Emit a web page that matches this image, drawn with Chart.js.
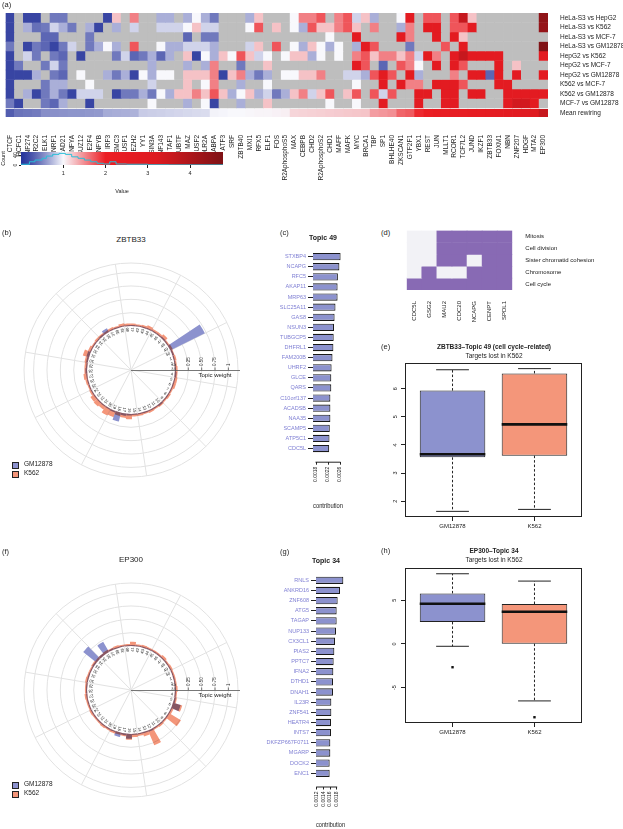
<!DOCTYPE html>
<html>
<head>
<meta charset="utf-8">
<title>Rewiring figure</title>
<script src="https://cdn.jsdelivr.net/npm/chart.js@4.4.1/dist/chart.umd.min.js"></script>
<style>
  body { margin: 0; background: #fff; }
  #page { position: relative; width: 623px; height: 829px; overflow: hidden; font-family: "Liberation Sans", Arial, sans-serif; color: #222; }
  #page canvas { position: absolute; }
  .t { position: absolute; white-space: nowrap; line-height: 1; }
  .c { transform: translateX(-50%); }
  .b { font-weight: bold; }
  .sw { position: absolute; width: 5px; height: 5px; border: 1px solid #222; }
</style>
</head>
<body>
<div id="page">
  <canvas id="heat" width="623" height="180" style="left:0;top:0"></canvas>
  <canvas id="key" width="235" height="55" style="left:0;top:140px"></canvas>
  <canvas id="polarB" width="290" height="240" style="left:0;top:250px"></canvas>
  <canvas id="barC" width="114" height="265" style="left:236px;top:245px"></canvas>
  <canvas id="goD" width="223" height="100" style="left:400px;top:222px"></canvas>
  <canvas id="boxE" width="253" height="200" style="left:370px;top:338px"></canvas>
  <canvas id="polarF" width="290" height="240" style="left:0;top:570px"></canvas>
  <canvas id="barG" width="114" height="261" style="left:236px;top:568px"></canvas>
  <canvas id="boxH" width="253" height="200" style="left:370px;top:543px"></canvas>

  <div class="t" style="left:2px;top:1px;font-size:7.5px">(a)</div>
  <div class="t" style="left:2px;top:229px;font-size:7.5px">(b)</div>
  <div class="t c" style="left:131px;top:236px;font-size:8px">ZBTB33</div>
  <div class="t" style="left:280px;top:229px;font-size:7.5px">(c)</div>
  <div class="t c b" style="left:323px;top:234px;font-size:7px">Topic 49</div>
  <div class="t" style="left:381px;top:229px;font-size:7.5px">(d)</div>
  <div class="t" style="left:381px;top:343px;font-size:7.5px">(e)</div>
  <div class="t c b" style="left:494px;top:344px;font-size:6.5px">ZBTB33–Topic 49 (cell cycle–related)</div>
  <div class="t c" style="left:494px;top:352.5px;font-size:6.5px">Targets lost in K562</div>
  <div class="sw" style="left:12px;top:462px;background:rgb(140,146,206)"></div>
  <div class="t" style="left:24px;top:461px;font-size:6.5px">GM12878</div>
  <div class="sw" style="left:12px;top:471px;background:rgb(244,150,122)"></div>
  <div class="t" style="left:24px;top:470px;font-size:6.5px">K562</div>

  <div class="t" style="left:2px;top:548px;font-size:7.5px">(f)</div>
  <div class="t c" style="left:131px;top:556px;font-size:8px">EP300</div>
  <div class="t" style="left:280px;top:548px;font-size:7.5px">(g)</div>
  <div class="t c b" style="left:326px;top:557px;font-size:7px">Topic 34</div>
  <div class="t" style="left:381px;top:547px;font-size:7.5px">(h)</div>
  <div class="t c b" style="left:494px;top:548px;font-size:6.5px">EP300–Topic 34</div>
  <div class="t c" style="left:494px;top:557px;font-size:6.5px">Targets lost in K562</div>
  <div class="sw" style="left:12px;top:782px;background:rgb(140,146,206)"></div>
  <div class="t" style="left:24px;top:781px;font-size:6.5px">GM12878</div>
  <div class="sw" style="left:12px;top:791px;background:rgb(244,150,122)"></div>
  <div class="t" style="left:24px;top:790px;font-size:6.5px">K562</div>
</div>
<script>
const _ = null;

// (a) rewiring heatmap
const tfNames = ['CTCF','HCFC1','ZNF274','NR2C2','ELK1','NRF1','RAD21','NFYA','SUZ12','E2F4','NFYB','IRF3','SMC3','USF1','EZH2','YY1','SIN3A','ZNF143','TAF1','UBTF','MAZ','USF2','POLR2A','GABPA','ATF3','SRF','ZBTB40','MXI1','RFX5','ELF1','FOS','POLR2AphosphoS5','MAX','CEBPB','CHD2','POLR2AphosphoS2','CHD1','MAFF','MAFK','MYC','BRCA1','TBP','SP1','BHLHE40','ZKSCAN1','GTF2F1','YBX1','REST','JUN','MLLT1','RCOR1','TCF7L2','JUND','IKZF1','ZBTB33','FOXM1','NBN','ZNF207','HDGF','MTA2','EP300'];
const pairNames = ['HeLa-S3 vs HepG2','HeLa-S3 vs K562','HeLa-S3 vs MCF-7','HeLa-S3 vs GM12878','HepG2 vs K562','HepG2 vs MCF-7','HepG2 vs GM12878','K562 vs MCF-7','K562 vs GM12878','MCF-7 vs GM12878'];

const helaHepg2 = [.15,_,.15,.15,_,.45,.45,_,_,_,_,.15,1.25,_,1.55,_,_,.7,.7,_,.7, 1,.7,.45,_,_,_,.7,1.25,_,_,_,1,1.55,1.55,1.75,_,1.55,1.75,.85,1.25, .7,_,_,1,2.8,_,1.75,1.75,_,1.75,3.6,1.25,_,_,_,_,_,_,_,4.5];
const helaK562 = [.15,_,.7,.4,.45,.85,.7,.45,_,.7,.15,_,.7,_,.85,_,_,.85,.85,.85,1, 1.25,.85,.85,_,_,_,1,1.75,_,1.25,_,1,.7,1.75,1.25,1.25,1.55,1.75,1.25,_, 1.55,_,_,.7,1.55,_,2.8,2.8,_,1.75,1.75,2.8,_,_,_,_,_,_,_,4.4];
const helaMcf7 = [.15,_,_,_,.35,.35,_,_,_,.45,_,_,_,_,_,_,_,_,_,_,.35, _,.45,.45,_,_,_,_,_,_,_,_,_,_,_,_,1,_,_,2.8,_, _,_,_,2.8,1.55,_,_,2.8,_,2.8,1.25,_,_,_,_,_,_,_,_,_];
const helaGm = [.45,_,.15,.45,.35,.15,.45,.85,_,.45,.7,1,.7,_,1.75,_,_,1,.7,.7,.85, .85,.85,.7,_,_,_,.85,1.25,_,1.75,_,1,.7,1.25,1,.7,1,_,.7,2.8, 1.75,_,_,_,.45,_,_,_,1.75,_,2.8,_,_,_,_,_,_,_,_,4.75];
const hepg2K562 = [.15,_,.85,.45,_,.45,.35,_,.15,_,_,_,.45,.85,.35,.45,.7,.35,.7,_,1.25, .15,1,.7,1.25,1,1.75,1.25,.85,1,_,1,1.25,1.25,.7,1,_,1,_,1.55,1.75, 1.25,1.55,1.55,1.25,1.55,.85,2.8,1.55,_,2.8,3.6,2.8,2.8,2.8,2.8,_,_,_,_,2.8];
const hepg2Mcf7 = [.15,.45,_,_,.45,.85,.45,_,_,_,_,_,_,_,_,_,.7,_,_,_,.7, _,.7,1.55,_,_,.45,_,_,1.25,_,_,_,_,_,_,_,_,_,2.8,1.75, _,.35,_,1.75,1.55,1,_,2.8,_,2.8,1.75,_,_,_,2.8,_,1.25,_,_,_];
const hepg2Gm = [.15,.15,.15,.7,_,.45,.35,_,1,_,_,.7,.45,.7,.15,1,.7,1,1,_,1.25, 1.25,1.25,1.55,.15,1.25,1.55,.7,.45,.7,_,1,1,1.25,1.25,1.55,_,_,.85,.85,.7, 1.75,2.8,1.75,_,2.8,.7,_,_,_,1.55,_,2.8,2.8,.35,2.8,_,2.8,_,_,2.8];
const k562Mcf7 = [.15,_,_,_,.45,.7,.7,_,_,1,_,_,_,_,_,_,.85,_,_,_,1.25, _,1,1.55,_,_,.7,_,_,1,_,_,_,_,_,_,_,_,_,1,_, _,2.8,_,2.8,1.55,1.55,_,2.8,2.8,2.8,1.75,_,_,_,2.8,2.8,_,_,_,_];
const k562Gm = [.15,_,.7,.15,.45,.7,.45,.15,.85,.85,.85,_,.15,.45,.45,.7,.45,1,.7,1.25,1.25, 1.55,1.25,1.75,1.25,.7,1,1.25,.7,.85,.45,.7,1.25,1.55,.85,1.25,1.75,_,1.25,1.75,_, 1.75,.85,1.75,_,_,2.8,2.8,_,2.8,2.8,_,2.8,2.8,_,_,2.8,2.8,2.8,2.8,2.8];
const mcf7Gm = [.45,.15,_,_,.45,.35,.7,_,_,.15,_,_,_,_,_,_,1,_,_,_,.7, _,1,.15,_,_,.7,_,_,1.25,_,_,_,_,_,_,1,_,_,1,_, _,2.8,_,_,_,2.8,_,_,2.8,2.8,_,_,_,_,_,2.8,3.4,3.4,2.8,_];
const meanRewiring = [0.30,0.42,0.44,0.46,0.55,0.56,0.57,0.58,0.58,0.59,0.60,0.68,0.69,0.70,0.71,0.82,0.83,0.84,0.85,0.86,0.87,0.88,0.89,0.98,0.99,1.0,1.0,1.01,1.02,1.02,1.03,1.04,1.16,1.17,1.18,1.19,1.2,1.21,1.22,1.23,1.24,1.42,1.45,1.48,1.68,1.72,1.95,2.05,2.3,2.35,2.4,2.45,2.5,2.55,2.6,2.7,2.8,2.9,3.0,3.1,3.6];

// colour key histogram (bin starts and counts)
const histStart = [0,0.2,0.33,0.5,0.6,0.75,0.9,1.05,1.2,1.35,1.5,1.65,1.8,1.95,2.1,2.25,2.5,3.0,3.5,4.78];
const histCount = [3,13,20,27,36,43,47,43,33,27,20,13,7,4,13,4,3,1,0.5,0];
const keyTicks = [1,2,3,4];

// (b), (f) topic weights
const topics = [1,2,3,4,5,6,7,8,9,10,11,12,13,14,15,16,17,18,19,20,21,22,23,24,25,26,27,28,29,30,31,32,33,34,35,36,37,38,39,40,41,42,43,44,45,46,47,48,49,50];
const zbtbGM = [0.02,0.02,0.02,0.03,0.02,0.02,0.02,0.02,0.02,0.03, 0.02,0.02,0.02,0.02,0.02,0.03,0.04,0.17,0.03,0.02, 0.02,0.02,0.02,0.02,0.02,0.02,0.02,0.03,0.02,0.03, 0.05,0.02,0.02,0.02,0.03,0.08,0.02,0.02,0.02,0.02, 0.02,0.02,0.02,0.02,0.02,0.02,0.03,0.02,0.72,0.03];
const zbtbK562 = [0.05,0.04,0.05,0.05,0.06,0.06,0.04,0.05,0.04,0.05, 0.04,0.05,0.04,0.05,0.05,0.10,0.08,0.06,0.12,0.14, 0.08,0.10,0.09,0.05,0.04,0.05,0.07,0.05,0.05,0.06, 0.12,0.06,0.04,0.05,0.05,0.04,0.05,0.04,0.06,0.05, 0.05,0.04,0.05,0.07,0.05,0.05,0.08,0.04,0.05,0.04];
const ep300GM = [0.02,0.02,0.02,0.02,0.03,0.15,0.02,0.02,0.02,0.02, 0.02,0.03,0.02,0.02,0.02,0.09,0.03,0.08,0.02,0.02, 0.02,0.02,0.02,0.02,0.02,0.02,0.02,0.02,0.02,0.02, 0.02,0.02,0.03,0.32,0.04,0.22,0.03,0.02,0.02,0.02, 0.02,0.02,0.02,0.02,0.02,0.02,0.02,0.02,0.02,0.02];
const ep300K562 = [0.04,0.04,0.05,0.04,0.05,0.18,0.05,0.27,0.04,0.05, 0.04,0.30,0.08,0.05,0.06,0.11,0.05,0.04,0.05,0.04, 0.05,0.04,0.04,0.05,0.04,0.04,0.05,0.04,0.04,0.05, 0.04,0.04,0.05,0.04,0.04,0.05,0.04,0.05,0.04,0.04, 0.08,0.04,0.05,0.04,0.04,0.04,0.06,0.04,0.05,0.04];
const ringBreaks = [0, 0.25, 0.5, 0.75, 1, 1.18];
const weightTicks = [0, 0.25, 0.5, 0.75, 1];
const weightLabels = ['0', '0.25', '0.50', '0.75', '1'];

// (c), (g) top genes per topic
const topic49Genes = ['STXBP4','NCAPG','RFC5','AKAP11','MRP63','SLC25A11','GAS8','NSUN3','TUBGCP5','DHFRL1','FAM200B','UHRF2','GLCE','QARS','C10orf137','ACADSB','NAA35','SCAMP5','ATP5C1','CDC5L'];
const topic49Contrib = [0.00262,0.00258,0.00253,0.00252,0.00252,0.00245,0.00242,0.0024,0.00239,0.00238,0.00235,0.00232,0.00231,0.00231,0.00228,0.00228,0.00228,0.00226,0.00225,0.00224];
const topic49Ticks = [0.0018, 0.0022, 0.0026];
const topic34Genes = ['RNLS','ANKRD16','ZNF608','ATG5','TAGAP','NUP133','CX3CL1','PIAS2','PPTC7','IFNA2','DTHD1','DNAH1','IL23R','ZNF541','HEATR4','INTS7','DKFZP667F0711','MGARP','DOCK2','ENC1'];
const topic34Contrib = [0.0020,0.0019,0.00183,0.0018,0.0018,0.00178,0.00175,0.00173,0.00171,0.0017,0.00169,0.00169,0.00164,0.00164,0.00163,0.00163,0.00161,0.00161,0.00159,0.00159];
const topic34Ticks = [0.0012, 0.0014, 0.0016, 0.0018];

// (d) GO term membership
const goGenes = ['CDC5L','GSG2','MAU2','CDC20','NCAPG','CENPT','SPDL1'];
const goTerms = ['Mitosis','Cell division','Sister chromatid cohesion','Chromosome','Cell cycle'];
const goMitosis = [0,0,1,1,1,1,1];
const goCellDivision = [0,0,1,1,1,1,1];
const goCohesion = [0,0,1,1,0,1,1];
const goChromosome = [0,1,0,0,1,1,1];
const goCellCycle = [1,1,1,1,1,1,1];

// (e), (h) box plot summaries
const boxLabels = ['GM12878', 'K562'];
const eLow = [1.64, 1.71], eQ1 = [3.56, 3.62], eMed = [3.67, 4.73], eQ3 = [5.93, 6.54], eHigh = [6.67, 6.71], eOut = [_, _];
const hLow = [-0.27, -6.53], hQ1 = [2.52, 0.03], hMed = [4.6, 3.69], hQ3 = [5.79, 4.57], hHigh = [8.04, 7.2], hOut = [-2.67, -8.4];

const GM_COL = 'rgb(140,146,206)';
const K_COL = 'rgb(244,150,122)';
const NA_COL = 'rgb(190,190,190)';
const GO_ON = 'rgb(136,106,180)';
const GO_OFF = 'rgb(242,242,246)';

Chart.defaults.font.family = '"Liberation Sans", Arial, sans-serif';
Chart.defaults.color = '#222';
Chart.defaults.animation = false;
Chart.defaults.responsive = false;
Chart.defaults.plugins.legend.display = false;
Chart.defaults.plugins.tooltip.enabled = false;

function mix(a, b, t) { return a.map((c, i) => Math.round(c + (b[i] - c) * t)); }
function heatColor(v) {
  if (v === null) return NA_COL;
  let c;
  if (v <= 1) c = mix([38, 52, 155], [248, 248, 252], Math.pow(Math.max(v, 0), 1.3));
  else if (v <= 2) c = mix([248, 248, 252], [236, 30, 36], v - 1);
  else if (v <= 3.2) c = mix([236, 30, 36], [222, 26, 32], (v - 2) / 1.2);
  else c = mix([222, 26, 32], [125, 18, 22], Math.min((v - 3.2) / 1.6, 1));
  return 'rgb(' + c + ')';
}

// ---------- (a) heatmap ----------
const heatRows = [helaHepg2, helaK562, helaMcf7, helaGm, hepg2K562, hepg2Mcf7, hepg2Gm, k562Mcf7, k562Gm, mcf7Gm];
const heatSets = heatRows.map((vals, r) => ({
  data: vals.map(() => [r, r + 1]),
  backgroundColor: vals.map(heatColor),
  grouped: false, barPercentage: 1, categoryPercentage: 1, borderWidth: 0
}));
heatSets.push({
  data: meanRewiring.map(() => [10.15, 10.95]),
  backgroundColor: meanRewiring.map(heatColor),
  grouped: false, barPercentage: 1, categoryPercentage: 1, borderWidth: 0
});
const rowLabels = pairNames.concat(['Mean rewiring']);
const rowCentres = pairNames.map((n, r) => r + 0.5).concat([10.55]);

new Chart(document.getElementById('heat'), {
  type: 'bar',
  data: { labels: tfNames, datasets: heatSets },
  options: {
    layout: { padding: { top: 13, left: 2, right: 0, bottom: 0 } },
    scales: {
      x: {
        grid: { display: false }, border: { display: false },
        ticks: { autoSkip: false, minRotation: 90, maxRotation: 90, padding: 10, font: { size: 6.5 } },
        afterFit: s => { s.height = 63; }
      },
      y: {
        type: 'linear', position: 'right', reverse: true, min: 0, max: 10.95,
        grid: { display: false }, border: { display: false },
        afterBuildTicks: s => { s.ticks = rowCentres.map(v => ({ value: v })); },
        ticks: { autoSkip: false, padding: 4, font: { size: 6.5 }, callback: (v, i) => rowLabels[i] },
        afterFit: s => { s.width = 75; }
      }
    }
  }
});

// ---------- colour key ----------
const keyGradient = {
  id: 'keyGradient',
  beforeDatasetsDraw(chart) {
    const { ctx, chartArea: a, scales: { x } } = chart;
    const g = ctx.createLinearGradient(x.getPixelForValue(0), 0, x.getPixelForValue(x.max), 0);
    for (let v = 0; v <= x.max + 1e-9; v += 0.05) g.addColorStop(Math.min(v / x.max, 1), heatColor(v));
    ctx.save();
    ctx.fillStyle = g;
    ctx.fillRect(a.left, a.top, a.width, a.height);
    ctx.restore();
  }
};
new Chart(document.getElementById('key'), {
  type: 'line',
  data: { datasets: [{
    data: histStart.map((b, i) => ({ x: b, y: histCount[i] })),
    stepped: 'before', borderColor: 'rgb(40,190,215)', borderWidth: 1, pointRadius: 0
  }] },
  options: {
    layout: { padding: { top: 12, right: 12, left: 0, bottom: 0 } },
    scales: {
      x: {
        type: 'linear', min: 0, max: 4.78,
        afterBuildTicks: s => { s.ticks = keyTicks.map(v => ({ value: v })); },
        grid: { drawOnChartArea: false, tickLength: 3, color: '#222' },
        border: { display: false },
        ticks: { font: { size: 5.5 }, padding: 2 },
        title: { display: true, text: 'Value', font: { size: 5.5 }, padding: { top: 1, bottom: 0 } },
        afterFit: s => { s.height = 30; }
      },
      y: {
        min: 0, max: 52.5,
        afterBuildTicks: s => { s.ticks = [0, 40].map(v => ({ value: v })); },
        grid: { drawOnChartArea: false, tickLength: 2, color: '#222' },
        border: { display: false },
        ticks: { font: { size: 5 }, padding: 1, minRotation: 90, maxRotation: 90, crossAlign: 'center' },
        title: { display: true, text: 'Count', font: { size: 5.5 }, padding: 0 },
        afterFit: s => { s.width = 21; }
      }
    }
  },
  plugins: [keyGradient]
});

// ---------- (b), (f) circular topic-weight plots ----------
const polarDecor = {
  id: 'polarDecor',
  beforeDatasetDraw(chart, args) {
    if (args.index === 1) { chart.ctx.save(); chart.ctx.globalCompositeOperation = 'multiply'; }
  },
  afterDatasetDraw(chart, args) {
    if (args.index === 1) chart.ctx.restore();
  },
  afterDatasetsDraw(chart) {
    const s = chart.scales.r, ctx = chart.ctx;
    const xc = s.xCenter, yc = s.yCenter;
    const r0 = s.getDistanceFromCenterForValue(0);
    ctx.save();
    ctx.fillStyle = '#fff';
    ctx.beginPath(); ctx.arc(xc, yc, r0, 0, 2 * Math.PI); ctx.fill();
    ctx.strokeStyle = '#e2e2e2'; ctx.lineWidth = 1;
    topics.forEach((t, i) => {
      if (i % 5 !== 4) return;
      const p = s.getPointPosition(i, r0);
      ctx.beginPath(); ctx.moveTo(xc, yc); ctx.lineTo(p.x, p.y); ctx.stroke();
    });
    ctx.fillStyle = '#222';
    ctx.font = '4px "Liberation Sans", Arial, sans-serif';
    ctx.textAlign = 'right'; ctx.textBaseline = 'middle';
    topics.forEach((t, i) => {
      const a = s.getIndexAngle(i) + Math.PI / topics.length - Math.PI / 2;
      ctx.save(); ctx.translate(xc, yc); ctx.rotate(a);
      ctx.fillText(String(t), r0 - 1.5, 0);
      ctx.restore();
    });
    // topic weight axis
    ctx.strokeStyle = '#555'; ctx.lineWidth = 0.8;
    ctx.beginPath(); ctx.moveTo(xc, yc + 0.5); ctx.lineTo(xc + s.drawingArea + 2, yc + 0.5); ctx.stroke();
    ctx.font = '4.5px "Liberation Sans", Arial, sans-serif';
    ctx.textAlign = 'left'; ctx.textBaseline = 'middle'; ctx.fillStyle = '#333';
    weightTicks.forEach((v, i) => {
      const x = xc + s.getDistanceFromCenterForValue(v);
      ctx.beginPath(); ctx.moveTo(x, yc); ctx.lineTo(x, yc - 2.5); ctx.stroke();
      ctx.save(); ctx.translate(x, yc - 4); ctx.rotate(-Math.PI / 2);
      ctx.fillText(weightLabels[i], 0, 0);
      ctx.restore();
    });
    ctx.font = '6px "Liberation Sans", Arial, sans-serif';
    ctx.textAlign = 'center'; ctx.textBaseline = 'top'; ctx.fillStyle = '#222';
    ctx.fillText('Topic weight', xc + s.getDistanceFromCenterForValue(0.75), yc + 2.5);
    ctx.restore();
  }
};

function polarChart(id, gm, k562) {
  return new Chart(document.getElementById(id), {
    type: 'polarArea',
    data: { labels: topics, datasets: [
      { label: 'GM12878', data: gm, backgroundColor: GM_COL, borderWidth: 0, order: 1 },
      { label: 'K562', data: k562, backgroundColor: K_COL, borderWidth: 0, order: 0 }
    ] },
    options: {
      layout: { padding: { left: 24, right: 52, top: 13, bottom: 13 } },
      scales: {
        r: {
          min: -0.822, max: 1.18, startAngle: 70.8, beginAtZero: false,
          ticks: { display: false },
          afterBuildTicks: s => { s.ticks = ringBreaks.map(v => ({ value: v })); },
          grid: { color: '#e2e2e2', lineWidth: 1, circular: true },
          angleLines: { display: true, color: '#e2e2e2', lineWidth: c => (c.index % 5 === 4 ? 1 : 0) },
          pointLabels: { display: false }
        }
      }
    },
    plugins: [polarDecor]
  });
}
polarChart('polarB', zbtbGM, zbtbK562);
polarChart('polarF', ep300GM, ep300K562);

// ---------- (c), (g) gene contribution bars ----------
const tickSpan = {
  id: 'tickSpan',
  afterDraw(chart) {
    const x = chart.scales.x, ctx = chart.ctx, t = x.ticks;
    ctx.save();
    ctx.strokeStyle = '#222'; ctx.lineWidth = 1;
    ctx.beginPath();
    ctx.moveTo(x.getPixelForValue(t[0].value) - 0.5, x.top + 0.5);
    ctx.lineTo(x.getPixelForValue(t[t.length - 1].value) + 0.5, x.top + 0.5);
    ctx.stroke();
    ctx.restore();
  }
};
function geneBars(id, genes, vals, xmin, xmax, ticks, leftW, bottomH, padTop, padRight) {
  return new Chart(document.getElementById(id), {
    type: 'bar',
    data: { datasets: [{
      data: vals.map((v, i) => ({ x: v, y: i })),
      backgroundColor: GM_COL, borderColor: '#1a1a1a', borderWidth: 1.1, borderSkipped: false,
      barPercentage: 0.72, categoryPercentage: 1, clip: 0
    }] },
    options: {
      indexAxis: 'y',
      layout: { padding: { top: padTop, right: padRight, left: 0, bottom: 0 } },
      scales: {
        x: {
          type: 'linear', min: xmin, max: xmax, offset: false,
          afterBuildTicks: s => { s.ticks = ticks.map(v => ({ value: v })); },
          grid: { drawOnChartArea: false, tickLength: 3, color: '#222', offset: false },
          border: { display: false },
          ticks: { minRotation: 90, maxRotation: 90, font: { size: 5 }, padding: 2, callback: (v, i) => String(ticks[i]) },
          title: { display: true, text: 'contribution', font: { size: 7 }, padding: { top: 2, bottom: 0 } },
          afterFit: s => { s.height = bottomH; }
        },
        y: {
          type: 'linear', reverse: true, min: -0.6, max: 20.3, offset: false,
          afterBuildTicks: s => { s.ticks = genes.map((g, i) => ({ value: i })); },
          grid: { drawOnChartArea: false, tickLength: 5, color: '#222', offset: false },
          border: { display: false },
          ticks: { autoSkip: false, color: 'rgb(128,128,212)', font: { size: 5.5 }, padding: 2, callback: (v, i) => genes[i] },
          afterFit: s => { s.width = leftW; }
        }
      }
    },
    plugins: [tickSpan]
  });
}
geneBars('barC', topic49Genes, topic49Contrib, 0.0017, 0.0027, topic49Ticks, 77, 48.3, 5.6, 7);
geneBars('barG', topic34Genes, topic34Contrib, 0.00118, 0.00205, topic34Ticks, 80, 42.5, 6.2, 5);

// ---------- (d) GO membership grid ----------
const goRows = [goMitosis, goCellDivision, goCohesion, goChromosome, goCellCycle];
new Chart(document.getElementById('goD'), {
  type: 'bar',
  data: { labels: goGenes, datasets: goRows.map((vals, r) => ({
    data: vals.map(() => [r, r + 1]),
    backgroundColor: vals.map(v => (v ? GO_ON : GO_OFF)),
    grouped: false, barPercentage: 1, categoryPercentage: 1, borderWidth: 0
  })) },
  options: {
    layout: { padding: { top: 6.3, left: 6.7, right: 0, bottom: 0 } },
    scales: {
      x: {
        grid: { display: false }, border: { display: false },
        ticks: { autoSkip: false, minRotation: 90, maxRotation: 90, padding: 3, font: { size: 6 } },
        afterFit: s => { s.height = 32; }
      },
      y: {
        type: 'linear', position: 'right', reverse: true, min: 0, max: 5,
        grid: { display: false }, border: { display: false },
        afterBuildTicks: s => { s.ticks = goTerms.map((t, r) => ({ value: r + 0.5 })); },
        ticks: { autoSkip: false, padding: 5, font: { size: 6 }, callback: (v, i) => goTerms[i] },
        afterFit: s => { s.width = 110.7; }
      }
    }
  }
});

// ---------- (e), (h) box plots ----------
const frame = {
  id: 'frame',
  afterDraw(chart) {
    const a = chart.chartArea, ctx = chart.ctx;
    ctx.save(); ctx.strokeStyle = '#222'; ctx.lineWidth = 1;
    ctx.strokeRect(a.left + 0.5, a.top + 0.5, a.width - 1, a.height - 1);
    ctx.restore();
  }
};
function boxChart(id, lo, q1, med, q3, hi, outs, yMin, yMax, yTicks, padTop, bottomH) {
  const whisk = [], caps = [], meds = [], pts = [];
  boxLabels.forEach((name, i) => {
    const x = i + 1;
    whisk.push({ x, y: q3[i] }, { x, y: hi[i] }, { x, y: null }, { x, y: q1[i] }, { x, y: lo[i] }, { x, y: null });
    caps.push({ x: x - 0.2, y: hi[i] }, { x: x + 0.2, y: hi[i] }, { x, y: null }, { x: x - 0.2, y: lo[i] }, { x: x + 0.2, y: lo[i] }, { x, y: null });
    meds.push({ x: x - 0.4, y: med[i] }, { x: x + 0.4, y: med[i] }, { x, y: null });
    if (outs[i] !== null) pts.push({ x, y: outs[i] });
  });
  return new Chart(document.getElementById(id), {
    type: 'bar',
    data: { datasets: [
      { type: 'bar', data: boxLabels.map((n, i) => ({ x: i + 1, y: [q1[i], q3[i]] })), backgroundColor: [GM_COL, K_COL],
        borderColor: '#222', borderWidth: 1, borderSkipped: false, barPercentage: 0.8, categoryPercentage: 1, order: 4 },
      { type: 'line', data: whisk, borderColor: '#222', borderWidth: 1, borderDash: [2.5, 2], pointRadius: 0, order: 3 },
      { type: 'line', data: caps, borderColor: '#222', borderWidth: 1, pointRadius: 0, order: 2 },
      { type: 'line', data: meds, borderColor: '#111', borderWidth: 2.6, pointRadius: 0, order: 1 },
      { type: 'line', data: pts, showLine: false, pointStyle: 'rect', pointRadius: 1.7, pointBackgroundColor: '#111', pointBorderWidth: 0, order: 0 }
    ] },
    options: {
      layout: { padding: { top: padTop, right: 41, left: 0, bottom: 0 } },
      scales: {
        x: {
          type: 'linear', min: 0.42, max: 2.58, offset: false,
          afterBuildTicks: s => { s.ticks = boxLabels.map((n, i) => ({ value: i + 1 })); },
          grid: { drawOnChartArea: false, tickLength: 4, color: '#222', offset: false },
          border: { display: false },
          ticks: { font: { size: 6 }, padding: 2, callback: (v, i) => boxLabels[i] },
          afterFit: s => { s.height = bottomH; }
        },
        y: {
          min: yMin, max: yMax,
          afterBuildTicks: s => { s.ticks = yTicks.map(v => ({ value: v })); },
          grid: { drawOnChartArea: false, tickLength: 4, color: '#222' },
          border: { display: false },
          ticks: { font: { size: 5.5 }, padding: 4, minRotation: 90, maxRotation: 90, crossAlign: 'center' },
          afterFit: s => { s.width = 35; }
        }
      }
    },
    plugins: [frame]
  });
}
boxChart('boxE', eLow, eQ1, eMed, eQ3, eHigh, eOut, 1.44, 6.91, [2, 3, 4, 5, 6], 25, 21);
boxChart('boxH', hLow, hQ1, hMed, hQ3, hHigh, hOut, -9.06, 8.7, [-5, 0, 5], 25, 20);
</script>
</body>
</html>
